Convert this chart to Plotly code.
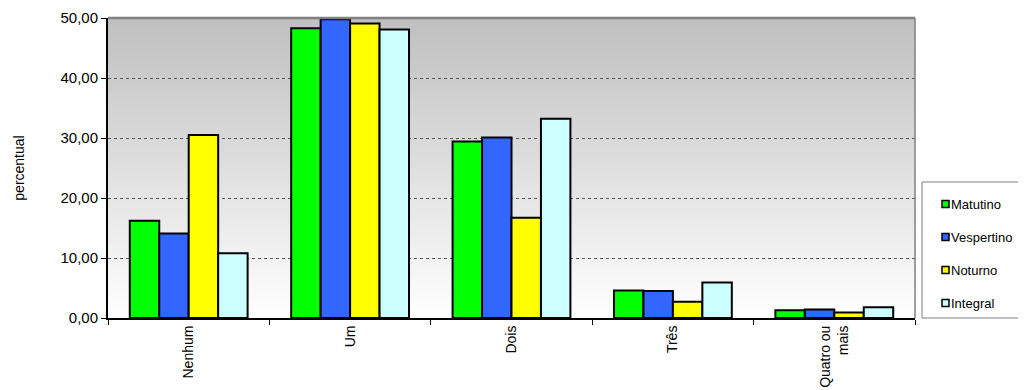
import plotly.graph_objects as go

categories = ["Nenhum", "Um", "Dois", "Três", "Quatro ou<br>mais"]
matutino = [16.2, 48.3, 29.4, 4.6, 1.3]
vespertino = [14.1, 49.8, 30.1, 4.5, 1.4]
noturno = [30.5, 49.1, 16.7, 2.7, 0.9]
integral = [10.8, 48.1, 33.2, 5.9, 1.8]

series_names = ["Matutino", "Vespertino", "Noturno", "Integral"]
series_colors = ["#00ff00", "#3366ff", "#ffff00", "#ccffff"]
series_values = [matutino, vespertino, noturno, integral]

fig = go.Figure()
for name, vals, color in zip(series_names, series_values, series_colors):
    fig.add_trace(go.Bar(
        x=categories, y=vals, name=name,
        marker=dict(color=color, line=dict(color="black", width=2)),
    ))

# gradient background (gray at top -> white at bottom)
n = 60
shapes = []
for k in range(n):
    t = k / (n - 1)
    c = int(192 + (255 - 192) * t)
    shapes.append(dict(
        type="rect", xref="x domain", yref="y domain",
        x0=0, x1=1, y0=1 - (k + 1) / n, y1=1 - k / n,
        fillcolor=f"rgb({c},{c},{c})", line=dict(width=0), layer="below",
    ))
shapes.append(dict(type="line", xref="x domain", yref="y domain", x0=0, x1=1, y0=1, y1=1,
                   line=dict(color="#808080", width=2.5)))
shapes.append(dict(type="line", xref="x domain", yref="y domain", x0=1, x1=1, y0=0, y1=1,
                   line=dict(color="#808080", width=1.5)))

# legend drawn by hand: plot area is 807 x 300 px
pw, ph = 807.0, 300.0
def px(dx):
    return 1 + dx / pw
def py(dy):
    return dy / ph

annotations = []
shapes.append(dict(type="rect", xref="paper", yref="paper",
                   x0=px(7), x1=px(107), y0=py(0), y1=py(136),
                   line=dict(color="#808080", width=1), fillcolor="white"))
for i, (name, color) in enumerate(zip(series_names, series_colors)):
    yc = 114 - 33 * i
    shapes.append(dict(type="rect", xref="paper", yref="paper",
                       x0=px(27), x1=px(34), y0=py(yc - 3.5), y1=py(yc + 3.5),
                       line=dict(color="black", width=1.5), fillcolor=color))
    annotations.append(dict(text=name, xref="paper", yref="paper",
                            x=px(34), y=py(yc), xanchor="left", yanchor="middle",
                            showarrow=False, font=dict(size=13)))

# page body has an 8px margin, so the figure is trimmed by 8px
fig.update_layout(
    width=1018, height=382,
    margin=dict(l=100, r=111, t=10, b=72),
    paper_bgcolor="white", plot_bgcolor="rgba(0,0,0,0)",
    font=dict(family="Liberation Sans, Arial, sans-serif", size=14, color="black"),
    separators=",.",
    barmode="group", bargap=0.27, bargroupgap=0,
    shapes=shapes, annotations=annotations,
    showlegend=False,
)
fig.update_yaxes(
    range=[0, 50], dtick=10, tickformat=".2f",
    showgrid=True, gridcolor="#555555", griddash="dot", gridwidth=1,
    showline=True, linecolor="black", linewidth=2,
    ticks="outside", ticklen=5, tickcolor="black",
    zeroline=False, tickfont=dict(size=15), automargin=False,
    title=dict(text="percentual", font=dict(size=14), standoff=33),
)
fig.update_xaxes(
    tickangle=-90, showline=True, linecolor="black", linewidth=2,
    ticks="outside", ticklen=5, tickcolor="black", tickson="boundaries",
    showgrid=False, tickfont=dict(size=14), automargin=False,
)

fig.write_html("out.html")
